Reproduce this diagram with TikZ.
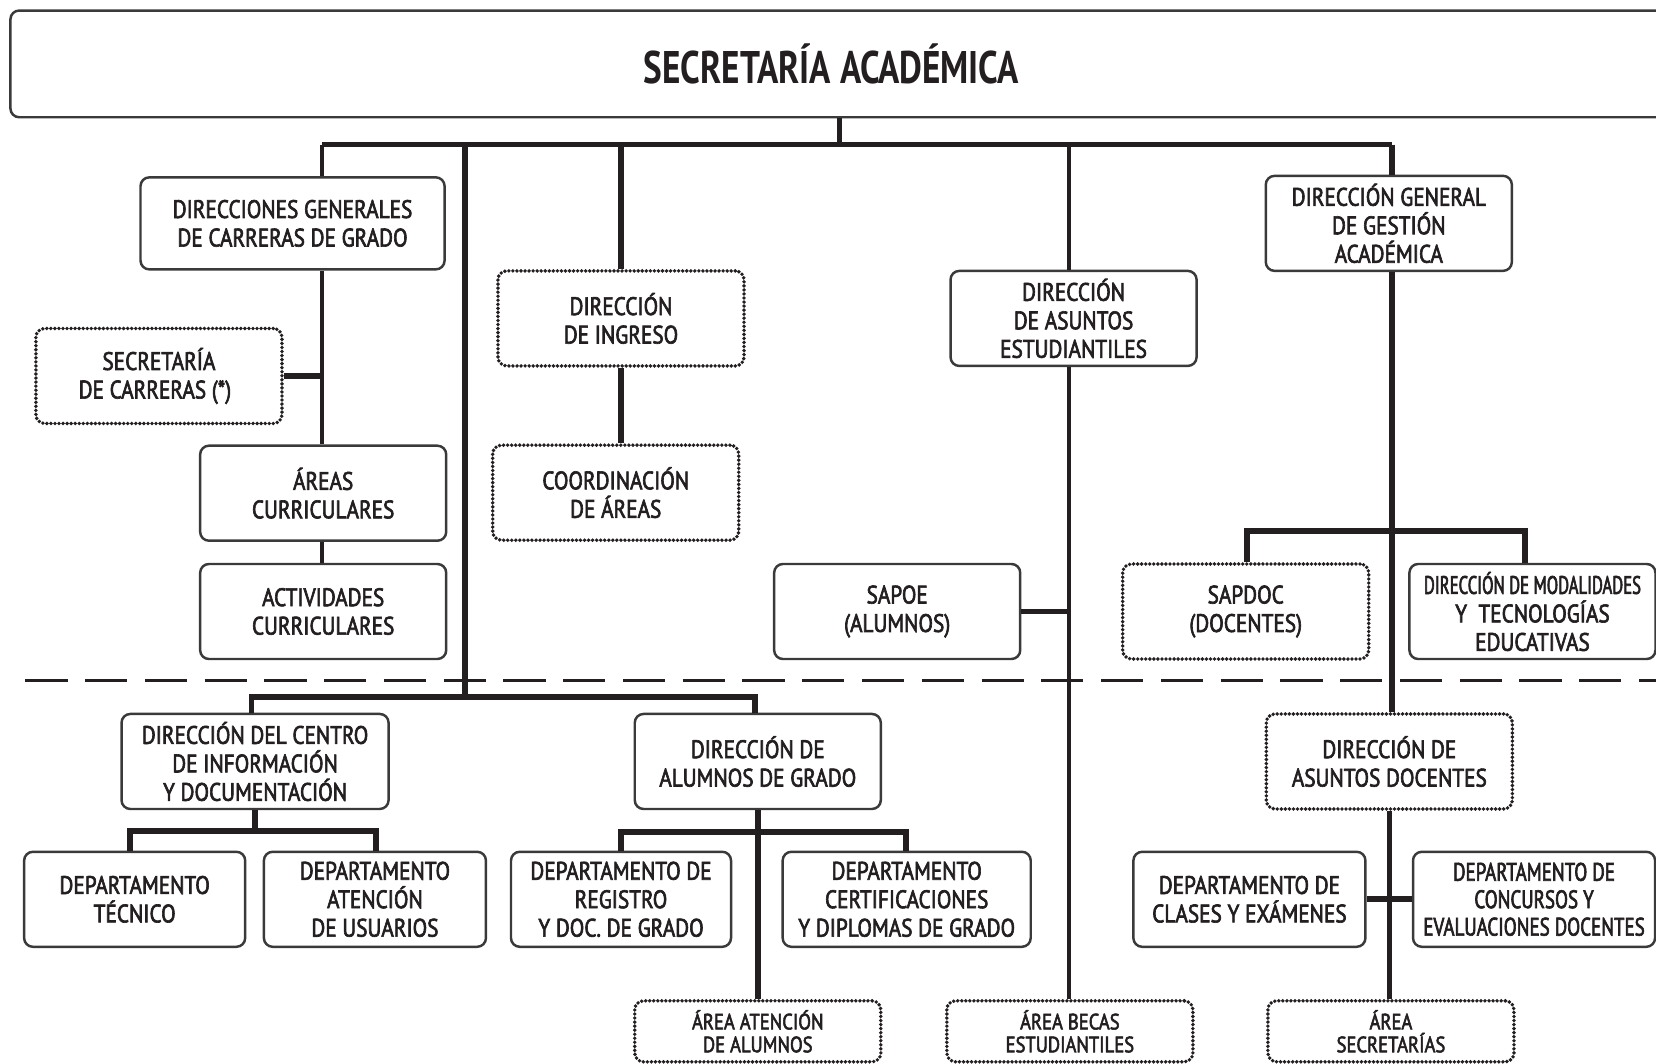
\documentclass[tikz,border=0pt]{standalone}
\usepackage{fontspec}
\setmainfont{PT Sans}[FakeStretch=0.84, FakeBold=2.5]
\newfontfamily\midfont{PT Sans}[FakeStretch=0.75, FakeBold=2.5]
\newfontfamily\narrowfont{PT Sans}[FakeStretch=0.66, FakeBold=2.5]
\newfontfamily\titlefont{PT Sans Bold}[FakeStretch=0.77]
\usetikzlibrary{positioning}
\definecolor{ink}{HTML}{231F20}
\definecolor{rim}{HTML}{3A3A3A}

\begin{document}
\begin{tikzpicture}[x=0.010561cm,y=-0.010561cm,
    every node/.style={text=ink, font=\fontsize{7.2}{8.1}\selectfont, align=center},
    box/.style={draw=rim, line width=0.7pt, rounded corners=2.5pt, minimum width=2.46cm, minimum height=0.95cm, inner sep=1pt},
    dotbox/.style={box, draw=ink, line width=1.1pt, dash pattern=on 0pt off 1.15pt, line cap=round},
    smalltext/.style={font=\fontsize{6.3}{6.5}\selectfont},
    link/.style={draw=ink, line width=1pt},
    trunk/.style={draw=ink, line width=1.6pt}]
            \useasboundingbox (0,0) rectangle (1568,1007);
            \node[box, minimum width=16.58cm, minimum height=1.067cm, font=\titlefont\fontsize{13}{15}\selectfont] (title) at (795,60.5) {SECRETARÍA ACADÉMICA\kern0.17cm};
            % Upper level
            \node[box, minimum width=3.04cm, minimum height=0.92cm] (dgc) at (277,211.5) {DIRECCIONES GENERALES\\DE CARRERAS DE GRADO};
            \node[dotbox] (secc) at (150.5,356) {SECRETARÍA\\DE CARRERAS (*)\kern0.08cm};
            \node[box] (areas) at (306,467) {ÁREAS\\CURRICULARES};
            \node[box] (activ) at (306,579) {ACTIVIDADES\\CURRICULARES};
            \node[dotbox] (ingreso) at (588,301.5) {DIRECCIÓN\\DE INGRESO};
            \node[dotbox] (coord) at (583,466.5) {COORDINACIÓN\\DE ÁREAS};
            \node[box] (dae) at (1016.5,301.5) {DIRECCIÓN\\DE ASUNTOS\\ESTUDIANTILES};
            \node[box] (sapoe) at (849.5,579) {SAPOE\\(ALUMNOS)};
            \node[box] (dgga) at (1315,211.5) {DIRECCIÓN GENERAL\\DE GESTIÓN\\ACADÉMICA};
            \node[dotbox] (sapdoc) at (1179.5,579) {SAPDOC\\(DOCENTES)};
            \node[box] (modal) at (1451,579) {{\narrowfont DIRECCIÓN DE MODALIDADES}\\Y\ \ TECNOLOGÍAS\\EDUCATIVAS};
            % Lower level
            \node[box, minimum width=2.67cm] (cid) at (241.5,721) {DIRECCIÓN DEL CENTRO\\DE INFORMACIÓN\\Y DOCUMENTACIÓN};
            \node[box] (dag) at (717.5,721) {DIRECCIÓN DE\\ALUMNOS DE GRADO};
            \node[box, minimum width=2.21cm] (tecnico) at (127.5,851.5) {DEPARTAMENTO\\TÉCNICO};
            \node[box, minimum width=2.22cm] (usuarios) at (355,851.5) {DEPARTAMENTO\\ATENCIÓN\\DE USUARIOS};
            \node[box, minimum width=2.2cm] (registro) at (588,851.5) {DEPARTAMENTO DE\\REGISTRO\\Y DOC. DE GRADO};
            \node[box, minimum width=2.48cm] (certif) at (858.5,851.5) {DEPARTAMENTO\\CERTIFICACIONES\\Y DIPLOMAS DE GRADO};
            \node[dotbox, smalltext, minimum height=0.61cm] (atencion) at (717.5,976.5) {ÁREA ATENCIÓN\\DE ALUMNOS};
            \node[dotbox, smalltext, minimum height=0.61cm] (becas) at (1013,976.5) {ÁREA BECAS\\ESTUDIANTILES};
            \node[dotbox] (dad) at (1315.5,721) {DIRECCIÓN DE\\ASUNTOS DOCENTES};
            \node[box, minimum width=2.32cm] (clases) at (1183,851.5) {DEPARTAMENTO DE\\CLASES Y EXÁMENES};
            \node[box, minimum width=2.42cm, font=\midfont\fontsize{7.2}{7.8}\selectfont] (concursos) at (1452.5,851.5) {DEPARTAMENTO DE\\CONCURSOS Y\\EVALUACIONES DOCENTES};
            \node[dotbox, smalltext, minimum height=0.61cm] (secretarias) at (1317,976.5) {ÁREA\\SECRETARÍAS};
            % Main bus
            \coordinate (busL) at (305,137);
            \coordinate (busR) at (1318,137);
            \coordinate (busI) at (588,137);
            \coordinate (busE) at (1012,137);
            \coordinate (spine) at (440,137);
            \draw[trunk] (title.south) -- (title.south |- busL);
            \draw[trunk] (busL) -- (busR);
            \draw[link] (busL) -- (busL |- dgc.north);
            \draw[link] (busL |- dgc.south) -- (busL |- areas.north);
            \draw[link] (busL |- areas.south) -- (busL |- activ.north);
            \draw[trunk] (secc.east) -- (secc.east -| busL);
            \draw[trunk] (busI) -- (ingreso.north);
            \draw[trunk] (ingreso.south) -- (ingreso.south |- coord.north);
            \draw[link] (busE) -- (busE |- dae.north);
            \draw[link] (busE |- dae.south) -- (busE |- becas.north);
            \draw[trunk] (sapoe.east) -- (sapoe.east -| busE);
            \draw[trunk] (busR) -- (busR |- dgga.north);
            \draw[trunk] (busR |- dgga.south) -- (busR |- dad.north);
            % Forks
            \coordinate (forkL) at (1181,503);
            \coordinate (forkR) at (1444,503);
            \draw[trunk] (forkL |- sapdoc.north) -- (forkL) -- (forkR) -- (forkR |- modal.north);
            \coordinate (lowL) at (238,660);
            \coordinate (lowR) at (715,660);
            \draw[trunk] (spine) -- (spine |- lowL);
            \draw[trunk] (lowL |- cid.north) -- (lowL) -- (lowR) -- (lowR |- dag.north);
            \coordinate (cidL) at (123,787);
            \coordinate (cidR) at (356,787);
            \draw[trunk] (cid.south) -- (cid.south |- cidL);
            \draw[trunk] (cidL |- tecnico.north) -- (cidL) -- (cidR) -- (cidR |- usuarios.north);
            \coordinate (dagL) at (588,788);
            \coordinate (dagR) at (858,788);
            \draw[trunk] (dagL |- registro.north) -- (dagL) -- (dagR) -- (dagR |- certif.north);
            \draw[trunk] (dag.south) -- (dag.south |- atencion.north);
            \draw[trunk] (dad.south) -- (dad.south |- secretarias.north);
            \draw[trunk] (clases.east) -- (concursos.west);
            % Separator
            \coordinate (sepL) at (24,644);
            \coordinate (sepR) at (1600,644);
            \draw[ink, line width=0.8pt, dash pattern=on 12pt off 5pt] (sepL) -- (sepR);
        \end{tikzpicture}
\end{document}
